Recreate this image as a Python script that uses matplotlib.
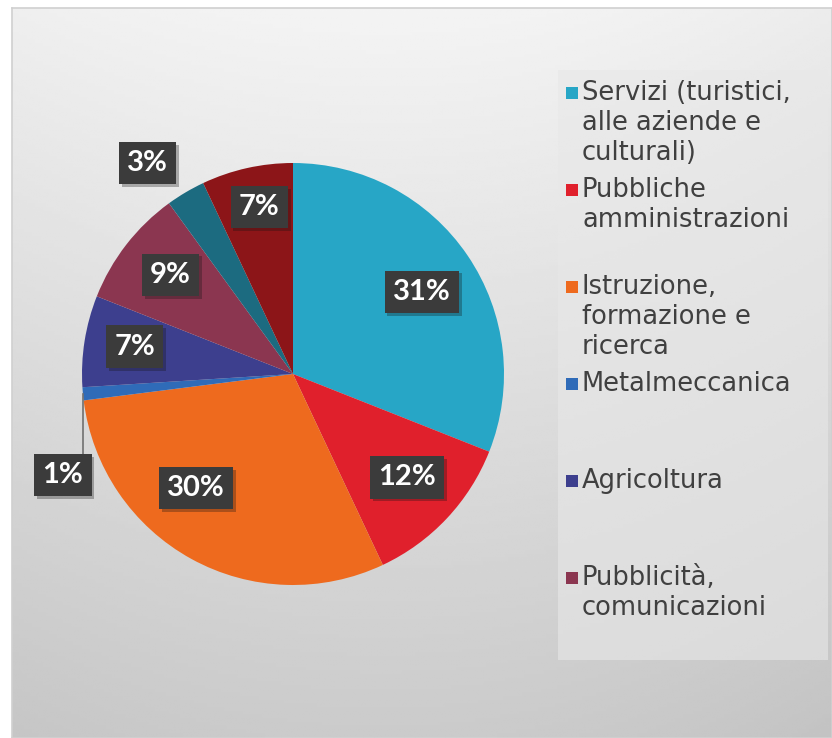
import numpy as np
import matplotlib.pyplot as plt
import matplotlib.patheffects as pe
from matplotlib.patches import Rectangle

plt.rcParams['font.family'] = ['Lato', 'DejaVu Sans']

sectors = ['Servizi (turistici,\nalle aziende e\nculturali)', 'Pubbliche\namministrazioni',
           'Istruzione,\nformazione e\nricerca', 'Metalmeccanica', 'Agricoltura',
           'Pubblicità,\ncomunicazioni', 'Altro', 'Altro 2']
shares = [31, 12, 30, 1, 7, 9, 3, 7]
colors = ['#27a6c6', '#e0202c', '#ee6a1e', '#2f6bb8', '#3d3f8e', '#8b3650', '#1c6b80', '#8c1518']
# label box centres, in pie radius units
label_pos = [(0.61, 0.39), (0.54, -0.49), (-0.46, -0.54), (-1.09, -0.48),
             (-0.75, 0.13), (-0.58, 0.47), (-0.69, 1.00), (-0.16, 0.79)]
legend_shown = 6

W, H = 832, 738
fig = plt.figure(figsize=(W / 100, H / 100), dpi=100)
fig.patch.set_facecolor('white')

# grey gradient panel
bg = fig.add_axes([12 / W, 0, 1 - 12 / W, 1 - 8 / H])
yy = np.linspace(0, 1, 200)[:, None]
xx = np.linspace(0, 1, 300)[None, :]
shade = 0.955 - 0.16 * yy - 0.025 * (np.abs(xx - 0.45) * 2) ** 2
bg.imshow(shade, cmap='gray', vmin=0, vmax=1, aspect='auto', extent=[0, 1, 0, 1], origin='upper')
bg.set_xlim(0, 1)
bg.set_ylim(0, 1)
bg.set_xticks([])
bg.set_yticks([])
for s in bg.spines.values():
    s.set_color('#d0d0d0')
    s.set_linewidth(1.2)

# legend panel
fig.patches.append(Rectangle((558 / W, 1 - 660 / H), 270 / W, 590 / H, transform=fig.transFigure,
                             facecolor='#e8e8e8', edgecolor='none', alpha=0.6, zorder=1))

# pie axes: centre (293, 374) px, radius 211 px
R = 211
lim = 1.35
ax = fig.add_axes([(293 - lim * R) / W, 1 - (374 + lim * R) / H, 2 * lim * R / W, 2 * lim * R / H])
ax.set_facecolor('none')
wedges, _ = ax.pie(shares, colors=colors, startangle=90, counterclock=False, radius=1,
                   wedgeprops=dict(edgecolor='none'))
ax.set_xlim(-lim, lim)
ax.set_ylim(-lim, lim)
ax.axis('off')

for w, v, (lx, ly) in zip(wedges, shares, label_pos):
    t = ax.text(lx, ly, f'{v}%', fontsize=21, fontweight='bold', color='white', ha='center', va='center',
                bbox=dict(boxstyle='square,pad=0.28', facecolor='#3b3b3b', edgecolor='none'))
    t.get_bbox_patch().set_path_effects([pe.SimplePatchShadow(offset=(2, -2), alpha=0.3), pe.Normal()])

# leader line for the 1% slice
w = wedges[3]
mid = np.deg2rad((w.theta1 + w.theta2) / 2)
ex, ey = np.cos(mid), np.sin(mid)
ax.plot([ex, ex], [ey, label_pos[3][1] + 0.1], color='#707070', lw=1.2)

# legend
for i in range(legend_shown):
    y = 93 + i * 97
    fig.patches.append(Rectangle((566 / W, 1 - (y + 6) / H), 12 / W, 12 / H, transform=fig.transFigure,
                                 facecolor=colors[i], edgecolor='none', zorder=3))
    fig.text(582 / W, 1 - (y - 13) / H, sectors[i], fontsize=18.5, color='#404040', ha='left', va='top',
             linespacing=1.2, family='DejaVu Sans')

fig.savefig('out.png', dpi=100)
